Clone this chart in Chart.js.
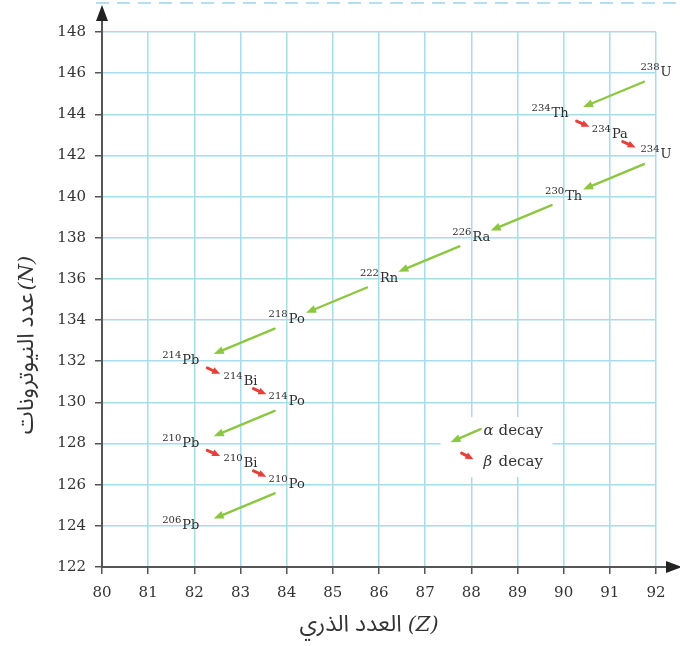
<!DOCTYPE html>
<html>
<head>
<meta charset="utf-8">
<script src="https://cdn.jsdelivr.net/npm/chart.js@4.4.0/dist/chart.umd.min.js"></script>
<style>
  body { margin: 0; background: #fff; }
  #wrap { width: 680px; height: 646px; position: relative; }
</style>
</head>
<body>
<div id="wrap"><canvas id="decayChart"></canvas></div>
<script>
// uranium-238 decay series
var massNumbers = [238, 234, 234, 234, 230, 226, 222, 218, 214, 214, 214, 210, 210, 210, 206];
var symbols     = ['U', 'Th', 'Pa', 'U', 'Th', 'Ra', 'Rn', 'Po', 'Pb', 'Bi', 'Po', 'Pb', 'Bi', 'Po', 'Pb'];
var protonsZ    = [92, 90, 91, 92, 90, 88, 86, 84, 82, 83, 84, 82, 83, 84, 82];
var neutronsN   = [146, 144, 143, 142, 140, 138, 136, 134, 132, 131, 130, 128, 127, 126, 124];
var decayModes  = ['alpha', 'beta', 'beta', 'alpha', 'alpha', 'alpha', 'alpha', 'alpha',
                   'beta', 'beta', 'alpha', 'beta', 'beta', 'alpha'];

var zTicks = [80, 81, 82, 83, 84, 85, 86, 87, 88, 89, 90, 91, 92];
var nTicks = [122, 124, 126, 128, 130, 132, 134, 136, 138, 140, 142, 144, 146, 148];

var xTitle = 'العدد الذري';
var yTitle = 'عدد النيوترونات';

// label placement (style only)
var labelAlign = ['center', 'right', 'center', 'center', 'center', 'center', 'center', 'center',
                  'right', 'center', 'center', 'right', 'center', 'center', 'right'];

var GREEN = '#8dc641';
var RED = '#e5403a';
var GRID = '#a8dcea';
var AXIS = '#555';
var SERIF = '"DejaVu Serif", "Liberation Serif", serif';
var ARABIC = '"Noto Sans Arabic", "DejaVu Sans", sans-serif';

function arrow(ctx, x1, y1, x2, y2, color, lw, hl, hw) {
  var a = Math.atan2(y2 - y1, x2 - x1);
  var bx = x2 - hl * Math.cos(a), by = y2 - hl * Math.sin(a);
  ctx.save();
  ctx.strokeStyle = color;
  ctx.fillStyle = color;
  ctx.lineWidth = lw;
  ctx.lineCap = 'round';
  ctx.beginPath();
  ctx.moveTo(x1, y1);
  ctx.lineTo(bx, by);
  ctx.stroke();
  ctx.beginPath();
  ctx.moveTo(x2, y2);
  ctx.lineTo(bx + hw / 2 * Math.sin(a), by - hw / 2 * Math.cos(a));
  ctx.lineTo(bx - hw / 2 * Math.sin(a), by + hw / 2 * Math.cos(a));
  ctx.closePath();
  ctx.fill();
  ctx.restore();
}

var decayPlugin = {
  id: 'decayPlugin',
  beforeDraw: function (chart) {
    var ctx = chart.ctx;
    ctx.save();
    ctx.fillStyle = '#fff';
    ctx.fillRect(0, 0, chart.width, chart.height);
    // dashed decoration along the top
    ctx.strokeStyle = '#b3e0f0';
    ctx.lineWidth = 2;
    ctx.setLineDash([13, 8]);
    ctx.beginPath();
    ctx.moveTo(chart.chartArea.left - 6, 3);
    ctx.lineTo(chart.width, 3);
    ctx.stroke();
    ctx.restore();
  },
  afterDraw: function (chart) {
    var ctx = chart.ctx;
    var xs = chart.scales.x, ys = chart.scales.y;
    var ca = chart.chartArea;
    var px = protonsZ.map(function (z) { return xs.getPixelForValue(z); });
    var py = neutronsN.map(function (n) { return ys.getPixelForValue(n); });

    // legend box (covers grid)
    var lx = xs.getPixelForValue(87.55), ly = ys.getPixelForValue(128.7);
    ctx.save();
    ctx.fillStyle = '#fff';
    ctx.fillRect(lx - 10, ly - 12, 112, 60);
    ctx.restore();

    // axis arrows
    ctx.save();
    ctx.strokeStyle = AXIS;
    ctx.fillStyle = '#222';
    ctx.lineWidth = 2;
    ctx.beginPath();
    ctx.moveTo(ca.left, ca.top);
    ctx.lineTo(ca.left, 16);
    ctx.moveTo(ca.right, ca.bottom);
    ctx.lineTo(670, ca.bottom);
    ctx.stroke();
    ctx.beginPath();
    ctx.moveTo(ca.left, 5);
    ctx.lineTo(ca.left - 6, 21);
    ctx.lineTo(ca.left + 6, 21);
    ctx.closePath();
    ctx.fill();
    ctx.beginPath();
    ctx.moveTo(682, ca.bottom);
    ctx.lineTo(666, ca.bottom - 6);
    ctx.lineTo(666, ca.bottom + 6);
    ctx.closePath();
    ctx.fill();
    ctx.restore();

    // decay arrows
    for (var i = 0; i < decayModes.length; i++) {
      var x1 = px[i], y1 = py[i], x2 = px[i + 1], y2 = py[i + 1];
      var dx = x2 - x1, dy = y2 - y1;
      if (decayModes[i] === 'alpha') {
        arrow(ctx, x1 + dx * 0.13, y1 + dy * 0.16 + 2, x1 + dx * 0.79, y1 + dy * 0.8 + 1, GREEN, 2.4, 10, 8);
      } else {
        arrow(ctx, x1 + dx * 0.28, y1 + dy * 0.28 + 1, x1 + dx * 0.56, y1 + dy * 0.56 + 1, RED, 3, 8, 7);
      }
    }

    // nuclide labels
    ctx.save();
    ctx.fillStyle = '#2d2d2d';
    ctx.textBaseline = 'alphabetic';
    ctx.textAlign = 'left';
    for (var k = 0; k < symbols.length; k++) {
      var sup = String(massNumbers[k]);
      ctx.font = '10px ' + SERIF;
      var ws = ctx.measureText(sup).width;
      ctx.font = '13px ' + SERIF;
      var wt = ctx.measureText(symbols[k]).width;
      var w = ws + wt + 1;
      var sx = labelAlign[k] === 'right' ? px[k] + 5 - w : px[k] - w / 2;
      ctx.font = '10px ' + SERIF;
      ctx.fillText(sup, sx, py[k] - 3);
      ctx.font = '13px ' + SERIF;
      ctx.fillText(symbols[k], sx + ws + 1, py[k] + 3);
    }
    ctx.restore();

    // legend
    arrow(ctx, lx + 30, ly, lx, ly + 13, GREEN, 2.4, 10, 8);
    arrow(ctx, lx + 11, ly + 24, lx + 23, ly + 30, RED, 3, 8, 7);
    ctx.save();
    ctx.fillStyle = '#333';
    ctx.textAlign = 'left';
    ctx.textBaseline = 'alphabetic';
    ctx.font = 'italic 15px ' + SERIF;
    ctx.fillText('α', lx + 33, ly + 6);
    ctx.fillText('β', lx + 33, ly + 37);
    ctx.font = '15px ' + SERIF;
    ctx.fillText('decay', lx + 48, ly + 6);
    ctx.fillText('decay', lx + 48, ly + 37);
    ctx.restore();

    // axis titles
    ctx.save();
    ctx.fillStyle = '#333';
    ctx.textBaseline = 'middle';
    ctx.textAlign = 'left';
    ctx.font = '23px ' + ARABIC;
    var wa = ctx.measureText(xTitle).width;
    ctx.font = 'italic 21px ' + SERIF;
    var wz = ctx.measureText('(Z)').width;
    var tx = (ca.left + ca.right) / 2 - 10 - (wa + wz + 6) / 2;
    ctx.font = '23px ' + ARABIC;
    ctx.fillText(xTitle, tx, 628);
    ctx.font = 'italic 21px ' + SERIF;
    ctx.fillText('(Z)', tx + wa + 6, 626);

    ctx.translate(30, 345);
    ctx.rotate(-Math.PI / 2);
    ctx.font = '23px ' + ARABIC;
    var wb = ctx.measureText(yTitle).width;
    ctx.font = 'italic 21px ' + SERIF;
    var wn = ctx.measureText('(N)').width;
    var ty = -(wb + wn + 2) / 2;
    ctx.font = '23px ' + ARABIC;
    ctx.fillText(yTitle, ty, 0);
    ctx.font = 'italic 21px ' + SERIF;
    ctx.fillText('(N)', ty + wb + 2, -2);
    ctx.restore();
  }
};

var ctx = document.getElementById('decayChart');
var chart = new Chart(ctx, {
  type: 'scatter',
  data: {
    datasets: [{
      label: 'nuclides',
      data: protonsZ.map(function (z, i) { return { x: z, y: neutronsN[i] }; }),
      pointRadius: 0,
      showLine: false
    }]
  },
  options: {
    responsive: true,
    maintainAspectRatio: false,
    animation: false,
    layout: { padding: { top: 32, right: 24, left: 0, bottom: 0 } },
    plugins: {
      legend: { display: false },
      tooltip: { enabled: false }
    },
    scales: {
      x: {
        type: 'linear',
        min: zTicks[0],
        max: zTicks[zTicks.length - 1],
        afterBuildTicks: function (s) { s.ticks = zTicks.map(function (v) { return { value: v }; }); },
        afterFit: function (s) { s.height = 79; },
        grid: { color: GRID, lineWidth: 1.5, tickColor: AXIS, tickLength: 7 },
        border: { color: AXIS, width: 2 },
        ticks: { color: '#333', padding: 10, font: { family: SERIF, size: 15 } }
      },
      y: {
        type: 'linear',
        min: nTicks[0],
        max: nTicks[nTicks.length - 1],
        afterBuildTicks: function (s) { s.ticks = nTicks.map(function (v) { return { value: v }; }); },
        afterFit: function (s) { s.width = 102; },
        grid: { color: GRID, lineWidth: 1.5, tickColor: AXIS, tickLength: 7 },
        border: { color: AXIS, width: 2 },
        ticks: { color: '#333', padding: 9, font: { family: SERIF, size: 15 } }
      }
    }
  },
  plugins: [decayPlugin]
});
</script>
</body>
</html>
